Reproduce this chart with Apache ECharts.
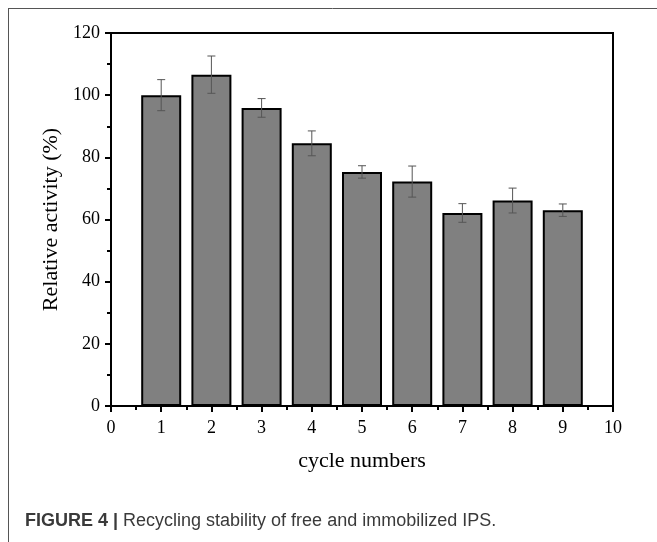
<!DOCTYPE html>
<html>
<head>
<meta charset="utf-8">
<script src="https://cdn.jsdelivr.net/npm/echarts@6/dist/echarts.min.js"></script>
<style>
html,body{margin:0;padding:0;background:#fff;}
#c{width:657px;height:542px;}
</style>
</head>
<body>
<div id="c"></div>
<script>
const cycles = [1, 2, 3, 4, 5, 6, 7, 8, 9];
const activity = [100, 106.6, 95.9, 84.5, 75.3, 72.2, 62.1, 66.1, 63.0];
const errors = [5, 6, 3, 4, 2, 5, 3, 4, 2];
const xTicks = [0, 1, 2, 3, 4, 5, 6, 7, 8, 9, 10];
const yTicks = [0, 20, 40, 60, 80, 100, 120];
const captionBold = 'FIGURE 4 |';
const captionText = ' Recycling stability of free and immobilized IPS.';
const xTitle = 'cycle numbers';
const yTitle = 'Relative activity (%)';

const chart = echarts.init(document.getElementById('c'), null, {renderer: 'canvas'});
const serif = 'Liberation Serif, Times New Roman, serif';

const barData = cycles.map((c, i) => [c, activity[i]]);
const errData = cycles.map((c, i) => [c, activity[i] - errors[i], activity[i] + errors[i]]);

chart.setOption({
  animation: false,
  backgroundColor: '#fff',
  grid: {left: 111, right: 44, top: 33, bottom: 136, show: true, borderColor: '#000', borderWidth: 2, backgroundColor: 'transparent'},
  graphic: [
    {type: 'line', shape: {x1: 8, y1: 8.5, x2: 657, y2: 8.5}, style: {stroke: '#555', lineWidth: 1}, silent: true},
    {type: 'line', shape: {x1: 8.5, y1: 8, x2: 8.5, y2: 542}, style: {stroke: '#555', lineWidth: 1}, silent: true},
    {type: 'text', left: 25, top: 512, style: {
      text: '{b|' + captionBold + '}{r|' + captionText + '}',
      rich: {
        b: {fontFamily: 'Liberation Sans, Arial, sans-serif', fontWeight: 'bold', fontSize: 18, fill: '#3a3a3a'},
        r: {fontFamily: 'Liberation Sans, Arial, sans-serif', fontSize: 18, fill: '#3a3a3a'}
      }
    }}
  ],
  xAxis: {
    type: 'value', min: xTicks[0], max: xTicks[xTicks.length - 1], interval: 1,
    name: xTitle, nameLocation: 'middle', nameGap: 44,
    nameTextStyle: {fontFamily: serif, fontSize: 22, color: '#000'},
    axisLine: {show: true, lineStyle: {color: '#000', width: 2}},
    axisTick: {show: true, inside: false, length: 6, lineStyle: {color: '#000', width: 2}},
    minorTick: {show: true, splitNumber: 2, length: 4, lineStyle: {color: '#000', width: 2}},
    axisLabel: {fontFamily: serif, fontSize: 18, color: '#000', margin: 13},
    splitLine: {show: false}
  },
  yAxis: {
    type: 'value', min: yTicks[0], max: yTicks[yTicks.length - 1], interval: 20,
    name: yTitle, nameLocation: 'middle', nameGap: 47, nameRotate: 90,
    nameTextStyle: {fontFamily: serif, fontSize: 22, color: '#000'},
    axisLine: {show: true, lineStyle: {color: '#000', width: 2}},
    axisTick: {show: true, inside: false, length: 6, lineStyle: {color: '#000', width: 2}},
    minorTick: {show: true, splitNumber: 2, length: 4, lineStyle: {color: '#000', width: 2}},
    axisLabel: {fontFamily: serif, fontSize: 18, color: '#000', margin: 11},
    splitLine: {show: false}
  },
  series: [
    {
      type: 'bar', data: barData, barWidth: 40,
      itemStyle: {color: '#808080', borderColor: '#000', borderWidth: 2}
    },
    {
      type: 'custom', data: errData, z: 5,
      renderItem: function (params, api) {
        const x = api.value(0);
        const lo = api.coord([x, api.value(1)]);
        const hi = api.coord([x, api.value(2)]);
        const hw = 4;
        const st = {stroke: '#555', lineWidth: 1};
        return {type: 'group', children: [
          {type: 'line', shape: {x1: lo[0], y1: lo[1], x2: hi[0], y2: hi[1]}, style: st},
          {type: 'line', shape: {x1: lo[0] - hw, y1: lo[1], x2: lo[0] + hw, y2: lo[1]}, style: st},
          {type: 'line', shape: {x1: hi[0] - hw, y1: hi[1], x2: hi[0] + hw, y2: hi[1]}, style: st}
        ]};
      }
    }
  ]
});
</script>
</body>
</html>
